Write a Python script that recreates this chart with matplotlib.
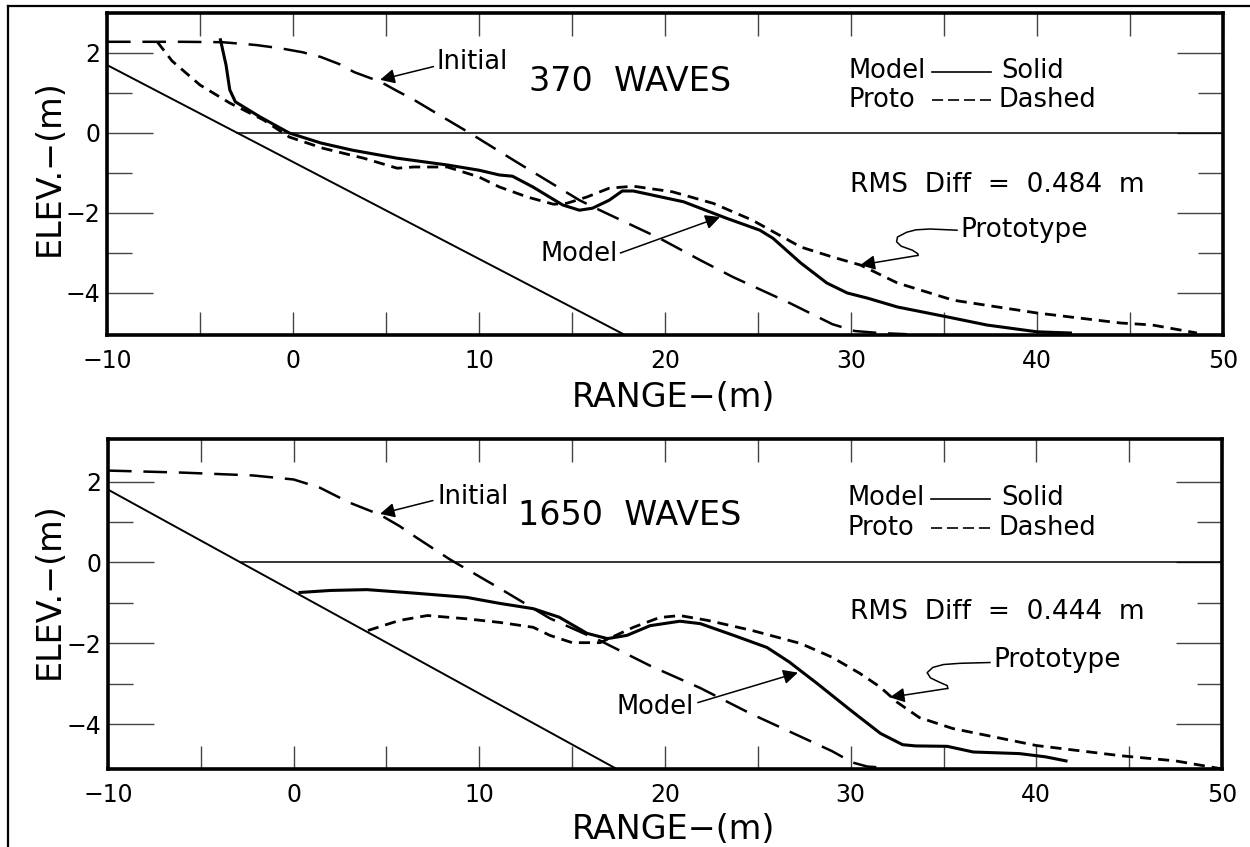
import numpy as np
import matplotlib
matplotlib.use("Agg")
import matplotlib.pyplot as plt
from matplotlib.lines import Line2D

plt.rcParams['font.family'] = ['DejaVu Sans']
plt.rcParams['lines.scale_dashes'] = False
plt.rcParams['axes.unicode_minus'] = True

# ---------------- 370 waves ----------------
w370_label = "370  WAVES"
w370_rms = "RMS  Diff  =  0.484  m"
w370_init_x = [-10, -6, -3.8, -2, -0.7, 0.5, 1.5, 2.5, 3.3, 4.7, 5.6, 6.5, 8.3, 9.5,
               12, 15.4, 16.5, 19.7, 21.9, 23.65, 26.7, 29.0, 30.2, 31.5, 33]
w370_init_y = [2.28, 2.28, 2.27, 2.2, 2.12, 2.02, 1.9, 1.72, 1.52, 1.28, 1.05, 0.83, 0.33, 0.0,
               -0.72, -1.68, -1.93, -2.63, -3.18, -3.6, -4.25, -4.78, -4.95, -5.0, -5.03]
w370_model_x = [-3.9, -3.6, -3.4, -3.1, -1.8, -0.2, 1.5, 3.2, 5.6, 8.3, 10.0, 11.1, 11.8,
                12.9, 14.5, 15.4, 16.1, 17.0, 17.7, 18.3, 21.0, 23.3, 25.1, 25.8, 27.3,
                28.7, 29.8, 30.9, 32.5, 35.2, 37.3, 40.0, 41.8]
w370_model_y = [2.33, 1.7, 1.08, 0.78, 0.41, 0.0, -0.25, -0.43, -0.63, -0.8, -0.93, -1.05, -1.08,
                -1.35, -1.8, -1.93, -1.88, -1.68, -1.45, -1.45, -1.72, -2.13, -2.43, -2.63, -3.25,
                -3.75, -4.0, -4.13, -4.35, -4.6, -4.8, -4.97, -5.0]
w370_proto_x = [-7.3, -6.5, -5.0, -3.4, -1.6, -0.2, 1.6, 3.8, 5.6, 6.5, 8.3, 10.0, 11.1,
                12.6, 14.0, 14.7, 15.8, 17.0, 18.3, 20.4, 22.6, 24.7, 27.3, 29.0, 30.5,
                32.5, 35.5, 40.0, 44.5, 46.2, 48.6]
w370_proto_y = [2.28, 1.8, 1.2, 0.75, 0.33, -0.1, -0.38, -0.63, -0.88, -0.85, -0.85, -1.1, -1.35,
                -1.6, -1.78, -1.76, -1.6, -1.38, -1.33, -1.47, -1.76, -2.18, -2.85, -3.1, -3.3,
                -3.75, -4.18, -4.5, -4.75, -4.8, -5.0]
w370_slope_x = [-10, 17.85]
w370_slope_y = [1.7, -5.05]

# ---------------- 1650 waves ----------------
w1650_label = "1650  WAVES"
w1650_rms = "RMS  Diff  =  0.444  m"
w1650_init_x = [-10, -6, -2.2, 0, 1.4, 3.0, 4.65, 5.7, 6.6, 8.4, 11.1, 13.8, 16.5, 19.2,
                21.9, 24.6, 27.3, 29.0, 30.1, 30.9, 31.9]
w1650_init_y = [2.27, 2.22, 2.15, 2.05, 1.85, 1.48, 1.18, 0.9, 0.62, 0.08, -0.64, -1.38, -1.93, -2.55,
                -3.1, -3.73, -4.3, -4.66, -4.94, -5.04, -5.07]
w1650_model_x = [0.34, 2.0, 3.95, 6.6, 9.3, 11.1, 12.9, 14.3, 15.8, 16.9, 17.95, 19.2, 20.8,
                 21.9, 23.7, 25.5, 26.7, 28.2, 30.0, 31.6, 32.8, 33.5, 35.2, 36.6, 39.1, 40.5, 41.6]
w1650_model_y = [-0.74, -0.69, -0.67, -0.76, -0.86, -1.01, -1.14, -1.35, -1.75, -1.88, -1.8, -1.56, -1.45,
                 -1.51, -1.8, -2.1, -2.46, -2.99, -3.65, -4.22, -4.5, -4.53, -4.54, -4.68, -4.72, -4.8, -4.9]
w1650_proto_x = [4.0, 5.7, 7.2, 9.3, 11.1, 12.9, 13.8, 15.0, 16.5, 18.3, 19.7, 20.8, 22.3,
                 24.7, 27.3, 29.0, 30.5, 31.6, 32.5, 33.7, 35.5, 40.0, 44.5, 47.5, 49.9]
w1650_proto_y = [-1.68, -1.43, -1.31, -1.39, -1.48, -1.6, -1.8, -1.98, -1.98, -1.6, -1.36, -1.31, -1.43,
                 -1.68, -2.0, -2.34, -2.74, -3.08, -3.45, -3.83, -4.1, -4.52, -4.77, -4.9, -5.09]
w1650_slope_x = [-10, 17.4]
w1650_slope_y = [1.8, -5.1]

x_major = [-10, 0, 10, 20, 30, 40, 50]
x_minor = [-5, 5, 15, 25, 35, 45]
y_major = [-4, -2, 0, 2]
y_minor = [-3, -1, 1]

W, H = 1250, 847
fig = plt.figure(figsize=(W / 100, H / 100), dpi=100)
fig.patch.set_facecolor("white")


def px_axes(left, top, right, bottom):
    return [left / W, 1 - bottom / H, (right - left) / W, (bottom - top) / H]


def draw_panel(ax, init_x, init_y, model_x, model_y, proto_x, proto_y,
               slope_x, slope_y, title, rms, ylim, ann):
    ax.set_xlim(-10, 50)
    ax.set_ylim(*ylim)

    # structure slope and still water level
    ax.plot(slope_x, slope_y, color="black", lw=1.4, solid_capstyle="butt")
    sx = np.array(slope_x, dtype=float)
    sy = np.array(slope_y, dtype=float)
    x0 = np.interp(0.0, sy[::-1], sx[::-1])
    ax.plot([x0, 50], [0, 0], color="black", lw=1.1)

    # profiles
    ax.plot(init_x, init_y, color="black", lw=1.8, dashes=(17, 8.5))
    ax.plot(proto_x, proto_y, color="black", lw=2.0, dashes=(8, 5))
    ax.plot(model_x, model_y, color="black", lw=2.2)

    # ticks
    ax.set_xticks(x_major)
    ax.set_xticks(x_minor, minor=True)
    ax.set_yticks(y_major)
    ax.set_yticks(y_minor, minor=True)
    ax.tick_params(axis="x", which="both", direction="in", length=16.5, width=1.0,
                   color="#444444", top=True, bottom=True, labelsize=17, pad=10)
    ax.tick_params(axis="y", which="major", direction="in", length=33, width=1.0,
                   color="#444444", left=True, right=True, labelsize=17, pad=5)
    ax.tick_params(axis="y", which="minor", direction="in", length=18, width=1.0,
                   color="#444444", left=True, right=True)
    for sp in ax.spines.values():
        sp.set_linewidth(2.6)

    ax.set_xlabel("RANGE\u2212(m)", fontsize=24)
    ax.set_ylabel("ELEV.\u2212(m)", fontsize=24)
    ax.xaxis.set_label_coords(ann["xlab"][0], ann["xlab"][1])
    ax.xaxis.label.set_verticalalignment("center")
    ax.yaxis.set_label_coords(ann["ylab"][0], ann["ylab"][1])
    ax.yaxis.label.set_verticalalignment("center")

    # panel title
    ax.text(ann["title"][0], ann["title"][1], title, fontsize=24, ha="center", va="center")

    # line key
    ky1, ky2 = ann["key_y"]
    ax.text(29.85, ky1, "Model", fontsize=18.5, ha="left", va="center")
    ax.plot([34.35, 37.5], [ky1 - 0.02, ky1 - 0.02], color="black", lw=1.2)
    ax.text(38.1, ky1, "Solid", fontsize=18.5, ha="left", va="center")
    ax.text(29.85, ky2, "Proto", fontsize=18.5, ha="left", va="center")
    ax.plot([34.35, 37.6], [ky2, ky2], color="black", lw=1.2, dashes=(8, 3.5))
    ax.text(37.95, ky2, "Dashed", fontsize=18.5, ha="left", va="center")

    ax.text(29.95, ann["rms_y"], rms, fontsize=19, ha="left", va="center")

    arrow = dict(arrowstyle="-|>", color="black", lw=1.1, mutation_scale=22,
                 shrinkA=0, shrinkB=0)

    # Initial label
    ix, iy = ann["init_text"]
    ax.text(ix, iy, "Initial", fontsize=18.5, ha="left", va="center")
    ax.annotate("", xy=ann["init_tip"], xytext=ann["init_tail"], arrowprops=arrow)

    # Model label
    mx, my = ann["model_text"]
    ax.text(mx, my, "Model", fontsize=18.5, ha="left", va="center")
    ax.annotate("", xy=ann["model_tip"], xytext=ann["model_tail"], arrowprops=arrow)

    # Prototype label with wavy leader
    px_, py_ = ann["proto_text"]
    ax.text(px_, py_, "Prototype", fontsize=19, ha="left", va="center")
    lx, ly = zip(*ann["proto_leader"])
    ax.plot(lx, ly, color="black", lw=1.1)
    ax.annotate("", xy=ann["proto_tip"], xytext=ann["proto_leader"][-1], arrowprops=arrow)


ax1 = fig.add_axes(px_axes(107, 13, 1223, 335))
ax2 = fig.add_axes(px_axes(108, 439, 1222, 769))

draw_panel(ax1, w370_init_x, w370_init_y, w370_model_x, w370_model_y,
           w370_proto_x, w370_proto_y, w370_slope_x, w370_slope_y,
           w370_label, w370_rms, (-5.05, 3.0),
           dict(xlab=(0.508, -0.193), ylab=(-0.052, 0.519),
                title=(18.1, 1.28), key_y=(1.55, 0.83), rms_y=-1.3,
                init_text=(7.74, 1.78), init_tail=(7.55, 1.66), init_tip=(4.68, 1.33),
                model_text=(13.28, -3.03), model_tail=(17.6, -3.0), model_tip=(22.96, -2.1),
                proto_text=(35.86, -2.43),
                proto_leader=[(35.7, -2.43), (34.25, -2.40), (33.5, -2.42), (33.0, -2.48),
                              (32.5, -2.6), (32.45, -2.72), (32.7, -2.83), (33.3, -2.93),
                              (33.6, -3.02), (33.6, -3.06)],
                proto_tip=(30.5, -3.3)))

draw_panel(ax2, w1650_init_x, w1650_init_y, w1650_model_x, w1650_model_y,
           w1650_proto_x, w1650_proto_y, w1650_slope_x, w1650_slope_y,
           w1650_label, w1650_rms, (-5.1, 3.05),
           dict(xlab=(0.508, -0.182), ylab=(-0.053, 0.542),
                title=(18.1, 1.16), key_y=(1.6, 0.86), rms_y=-1.23,
                init_text=(7.77, 1.62), init_tail=(7.5, 1.53), init_tip=(4.65, 1.2),
                model_text=(17.41, -3.58), model_tail=(21.77, -3.46), model_tip=(27.16, -2.72),
                proto_text=(37.66, -2.40),
                proto_leader=[(37.5, -2.47), (35.88, -2.49), (35.0, -2.52), (34.43, -2.59),
                              (34.12, -2.72), (34.3, -2.85), (34.75, -2.95), (35.2, -3.04),
                              (35.23, -3.11)],
                proto_tip=(32.11, -3.33)))

# outer frame (top and left edges)
fig.add_artist(Line2D([8 / W, 1.0], [1 - 6 / H, 1 - 6 / H], transform=fig.transFigure,
                      color="black", lw=1.6))
fig.add_artist(Line2D([8 / W, 8 / W], [0.0, 1 - 6 / H], transform=fig.transFigure,
                      color="black", lw=1.6))

fig.savefig("out.png", dpi=100, facecolor="white")
